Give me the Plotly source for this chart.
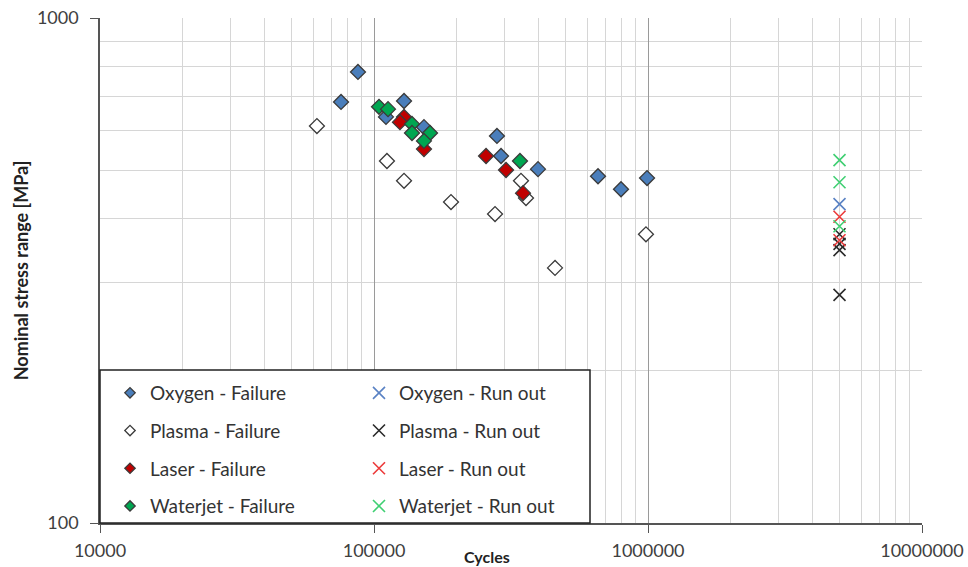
import plotly.graph_objects as go

# ---- data (cycles, nominal stress range MPa) ----
oxy_fail_cycles = [87400, 75800, 110600, 128700, 152200, 281000, 290800, 396800, 657000, 797000, 992000]
oxy_fail_stress = [782, 682, 637, 685, 608, 584, 533, 502, 486, 458, 482]

plasma_fail_cycles = [61900, 111500, 128700, 191000, 276500, 343900, 358700, 457800, 983000]
plasma_fail_stress = [611, 521, 476, 432, 409, 476, 440, 320, 373]

laser_fail_cycles = [128700, 124400, 152200, 256400, 303300, 349900]
laser_fail_stress = [637, 622, 550, 533, 500, 450]

water_fail_cycles = [104300, 112500, 137600, 137600, 160100, 152200, 341000]
water_fail_stress = [667, 660, 617, 592, 592, 571, 521]

oxy_run_cycles = [5000000]
oxy_run_stress = [428]
plasma_run_cycles = [5000000, 5000000, 5000000, 5000000]
plasma_run_stress = [373, 357, 347, 283]
laser_run_cycles = [5000000, 5000000]
laser_run_stress = [404, 363]
water_run_cycles = [5000000, 5000000, 5000000]
water_run_stress = [523, 473, 387]

x_major = [10000, 100000, 1000000, 10000000]
x_major_text = ["10000", "100000", "1000000", "10000000"]
x_minor = [m * 10 ** e for e in (4, 5, 6) for m in range(2, 10)]
y_major = [100, 1000]
y_major_text = ["100", "1000"]
y_minor = [200, 300, 400, 500, 600, 700, 800, 900]

FONT = "Lato"
edge = "#3a3a3a"

fig = go.Figure()

def fail(name, xs, ys, fill, group):
    # data markers
    fig.add_trace(go.Scatter(
        x=xs, y=ys, mode="markers", name=name, showlegend=False, legendgroup=group,
        marker=dict(symbol="diamond", size=11.5, color=fill, line=dict(color=edge, width=1.3)),
    ))
    # legend entry (smaller symbol as in the reference legend)
    fig.add_trace(go.Scatter(
        x=[None], y=[None], mode="markers", name=name, legend="legend", legendgroup=group,
        marker=dict(symbol="diamond", size=8, color=fill, line=dict(color=edge, width=1.3)),
    ))

def run(name, xs, ys, col, group):
    fig.add_trace(go.Scatter(
        x=xs, y=ys, mode="markers", name=name, legend="legend2", legendgroup=group,
        marker=dict(symbol="x-thin-open", size=12, color=col, line=dict(color=col, width=1.6)),
    ))

fail("Oxygen - Failure", oxy_fail_cycles, oxy_fail_stress, "#4a7ebb", "a")
fail("Plasma - Failure", plasma_fail_cycles, plasma_fail_stress, "#ffffff", "b")
fail("Laser - Failure", laser_fail_cycles, laser_fail_stress, "#c00000", "c")
fail("Waterjet - Failure", water_fail_cycles, water_fail_stress, "#00a651", "d")
run("Oxygen - Run out", oxy_run_cycles, oxy_run_stress, "#5a82c4", "e")
run("Plasma - Run out", plasma_run_cycles, plasma_run_stress, "#2b2b2b", "f")
run("Laser - Run out", laser_run_cycles, laser_run_stress, "#ec3a3a", "g")
run("Waterjet - Run out", water_run_cycles, water_run_stress, "#3fcf72", "h")

# legend box
fig.add_shape(type="rect", xref="paper", yref="paper", x0=0, x1=(590 - 100) / 822,
              y0=0, y1=(523 - 370) / 505, fillcolor="white",
              line=dict(color="#222222", width=1.5), layer="above")

leg_common = dict(
    font=dict(family=FONT, size=19, color="#333333"),
    bgcolor="rgba(0,0,0,0)", borderwidth=0, tracegroupgap=10,
    itemwidth=30, xanchor="left", yanchor="top", yref="paper", xref="paper",
)
fig.update_layout(
    legend=dict(x=(110 - 100) / 822, y=(523 - 374) / 505, **leg_common),
    legend2=dict(x=(359 - 100) / 822, y=(523 - 374) / 505, **leg_common),
)

fig.update_xaxes(
    type="log", range=[4, 7], tickvals=x_major, ticktext=x_major_text,
    showgrid=True, gridcolor="#9a9a9a", gridwidth=1.3,
    showline=True, linecolor="#555555", linewidth=1.5,
    ticks="outside", ticklen=8, tickcolor="#555555", ticklabelstandoff=3,
    tickfont=dict(family=FONT, size=18, color="#404040"),
    minor=dict(tickvals=x_minor, showgrid=True, gridcolor="#d6d6d6", gridwidth=1.3, ticks=""),
    zeroline=False, mirror=False, automargin=False,
)
fig.update_yaxes(
    type="log", range=[2, 3], tickvals=y_major, ticktext=y_major_text,
    showgrid=True, gridcolor="#cfcfcf", gridwidth=1.3,
    showline=True, linecolor="#555555", linewidth=1.5,
    ticks="outside", ticklen=8, tickcolor="#555555", ticklabelstandoff=8,
    tickfont=dict(family=FONT, size=18, color="#404040"),
    minor=dict(tickvals=y_minor, showgrid=True, gridcolor="#d6d6d6", gridwidth=1.3, ticks=""),
    title=dict(text="<b>Nominal stress range [MPa]</b>", font=dict(family=FONT, size=18, color="#222222"), standoff=4),
    zeroline=False, automargin=False,
)

fig.add_annotation(text="<b>Cycles</b>", xref="paper", yref="paper",
                   x=(487 - 100) / 822, y=-(556 - 523) / 505, xanchor="center", yanchor="middle",
                   showarrow=False, font=dict(family=FONT, size=16, color="#222222"))

fig.update_layout(
    width=968, height=567,
    margin=dict(l=100, r=46, t=18, b=44, autoexpand=False),
    paper_bgcolor="white", plot_bgcolor="white",
    showlegend=True,
)

fig.write_html("out.html")
